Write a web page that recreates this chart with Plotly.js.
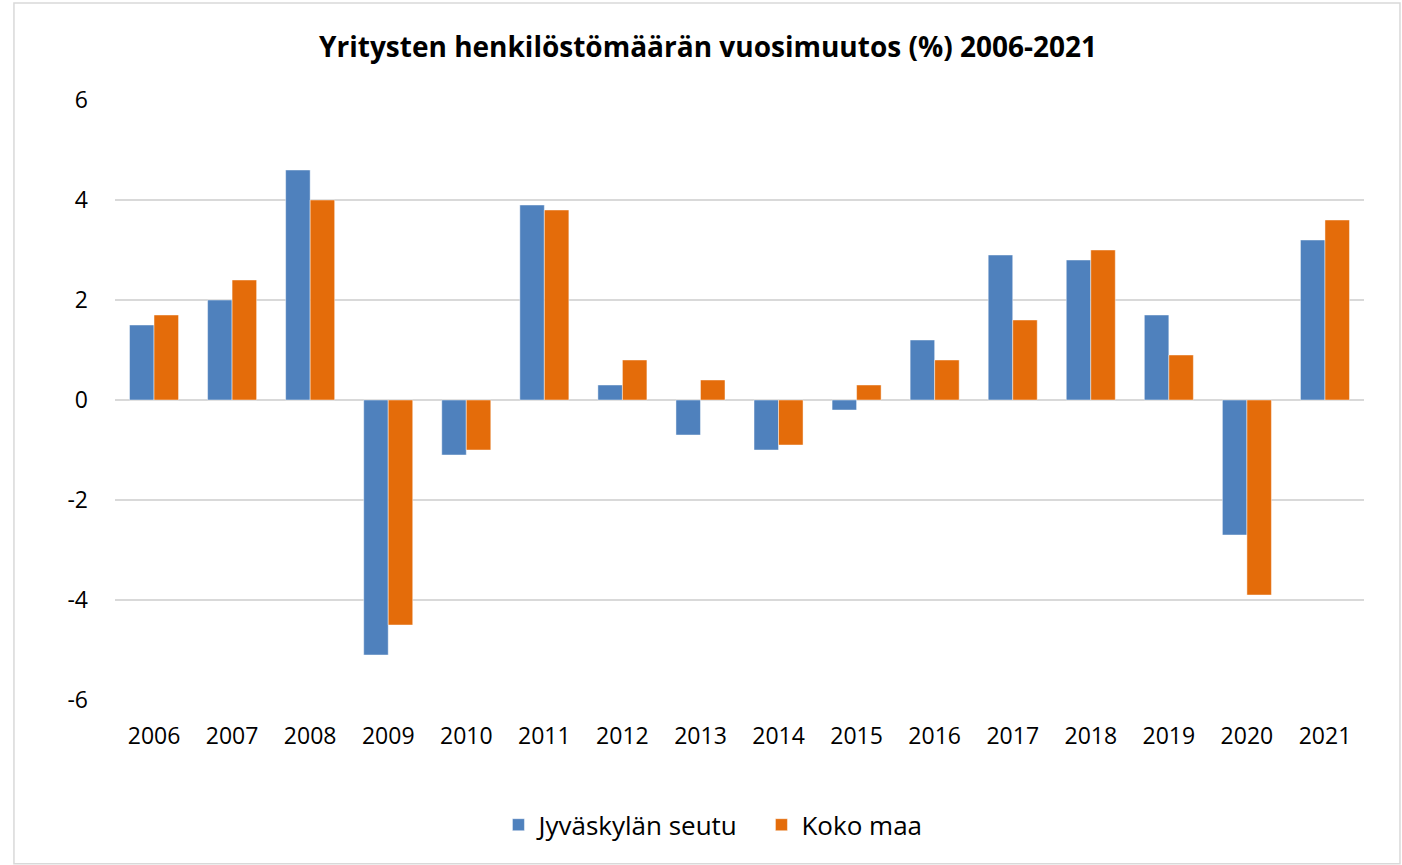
<!DOCTYPE html>
<html>
<head>
<meta charset="utf-8">
<script src="https://cdn.plot.ly/plotly-3.0.1.min.js"></script>
<style>html,body{margin:0;padding:0;background:#fff;}#chart{width:1402px;height:865px;}</style>
</head>
<body>
<div id="chart"></div>
<script>
const years = ["2006","2007","2008","2009","2010","2011","2012","2013","2014","2015","2016","2017","2018","2019","2020","2021"];
const jyvaskyla = [1.5, 2.0, 4.6, -5.1, -1.1, 3.9, 0.3, -0.7, -1.0, -0.2, 1.2, 2.9, 2.8, 1.7, -2.7, 3.2];
const kokoMaa = [1.7, 2.4, 4.0, -4.5, -1.0, 3.8, 0.8, 0.4, -0.9, 0.3, 0.8, 1.6, 3.0, 0.9, -3.9, 3.6];
const yTickVals = [-6, -4, -2, 0, 2, 4, 6];
const yTickText = ["-6", "-4", "-2", "0", "2", "4", "6"];

const font = "Open Sans, Noto Sans, sans-serif";
const traces = [
  {type: "bar", name: "Jyväskylän seutu", x: years, y: jyvaskyla,
   marker: {color: "#4F81BD", line: {color: "rgba(255,255,255,0.45)", width: 1}}},
  {type: "bar", name: "Koko maa", x: years, y: kokoMaa,
   marker: {color: "#E46C0A", line: {color: "rgba(255,255,255,0.45)", width: 1}}}
];
const layout = {
  width: 1402, height: 865,
  margin: {l: 115, r: 38, t: 100, b: 165},
  paper_bgcolor: "#fff", plot_bgcolor: "#fff",
  title: {text: "<b>Yritysten henkilöstömäärän vuosimuutos (%) 2006-2021</b>",
          font: {family: font, size: 28, color: "#000"}, x: 0.505, xanchor: "center", y: 0.945, yanchor: "middle"},
  barmode: "group", bargap: 0.372, bargroupgap: 0,
  xaxis: {type: "category", showgrid: false, zeroline: false, showline: false, ticks: "",
          ticklabelstandoff: 20,
          tickfont: {family: font, size: 23, color: "#000"}},
  yaxis: {range: [-6, 6], tickvals: yTickVals, ticktext: yTickText, showgrid: true,
          gridcolor: "#D9D9D9", gridwidth: 1.5, zeroline: false, showline: false, ticks: "",
          ticklabelstandoff: 26,
          tickfont: {family: font, size: 23, color: "#000"}},
  showlegend: true,
  legend: {orientation: "h", x: 0.307, xanchor: "left", y: -0.208, yanchor: "middle",
           font: {family: font, size: 26, color: "#000"}, entrywidth: 218, entrywidthmode: "pixels",
           itemwidth: 30, traceorder: "normal"},
  shapes: [{type: "rect", xref: "paper", yref: "paper", x0: -0.0809, x1: 1.0288, y0: -0.273, y1: 1.1617,
            line: {color: "#D9D9D9", width: 1.5}, fillcolor: "rgba(0,0,0,0)", layer: "below"}]
};
Plotly.newPlot("chart", traces, layout, {displayModeBar: false});
</script>
</body>
</html>
